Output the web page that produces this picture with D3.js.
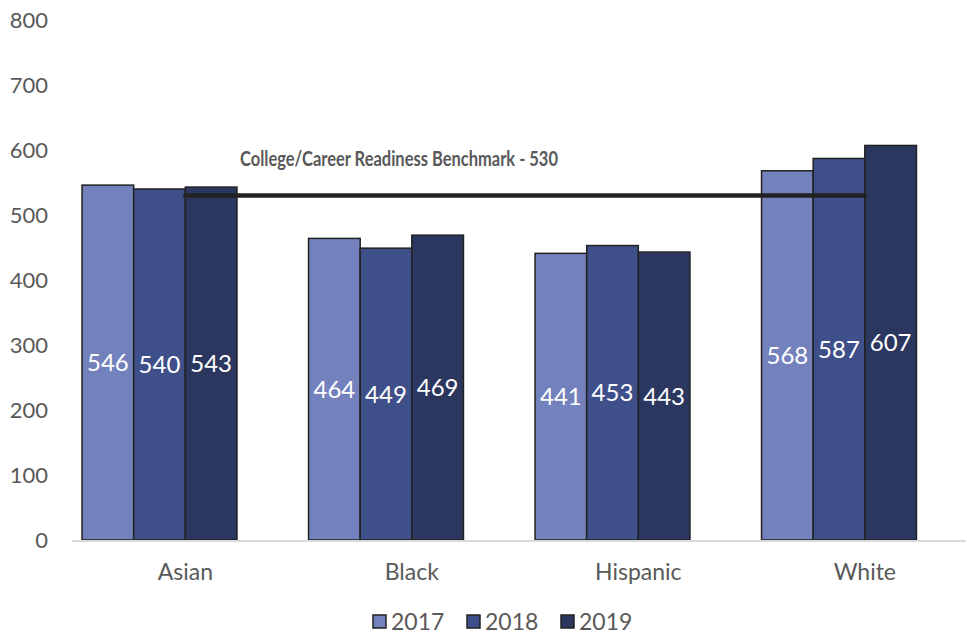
<!doctype html>
<html>
<head>
<script src="https://cdnjs.cloudflare.com/ajax/libs/d3/7.8.5/d3.min.js"></script>
<style>
body { margin: 0; background: #fff; }
text { font-family: Lato, "Open Sans", sans-serif; }
</style>
</head>
<body>
<svg width="967" height="636"></svg>
<script>
var groups = ["Asian", "Black", "Hispanic", "White"]
var years = ["2017", "2018", "2019"]
var scores2017 = [546, 464, 441, 568]
var scores2018 = [540, 449, 453, 587]
var scores2019 = [543, 469, 443, 607]
var yTicks = [0, 100, 200, 300, 400, 500, 600, 700, 800]
var benchmark = 530
var benchmarkLabel = "College/Career Readiness Benchmark - 530"

var colors = ["#7382bd", "#3f4f89", "#2c375f"]
var series = [scores2017, scores2018, scores2019]

var svg = d3.select("svg")

var y = d3.scaleLinear().domain([0, 800]).range([540, 20])
var x0 = d3.scaleBand().domain(groups).range([46.25, 952.25])
  .paddingInner(0.316).paddingOuter(0.158)
var x1 = d3.scaleBand().domain(years).range([0, x0.bandwidth()])

// y tick labels (no gridlines)
svg.append("g").selectAll("text")
  .data(yTicks).enter().append("text")
  .attr("x", 48)
  .attr("y", d => y(d))
  .attr("dy", "0.36em")
  .attr("text-anchor", "end")
  .attr("font-size", 22)
  .attr("fill", "#595959")
  .text(d => d)

// bars
var rows = []
groups.forEach((g, i) => {
  years.forEach((yr, j) => {
    rows.push({group: g, year: yr, j: j, value: series[j][i]})
  })
})

svg.append("g").selectAll("rect")
  .data(rows).enter().append("rect")
  .attr("x", d => x0(d.group) + x1(d.year))
  .attr("y", d => y(d.value))
  .attr("width", x1.bandwidth())
  .attr("height", d => y(0) - y(d.value))
  .attr("fill", d => colors[d.j])
  .attr("stroke", "#222")
  .attr("stroke-width", 1.5)

// axis baseline
svg.append("line")
  .attr("x1", 72).attr("x2", 966)
  .attr("y1", y(0) + 1).attr("y2", y(0) + 1)
  .attr("stroke", "#d9d9d9").attr("stroke-width", 2)

// value labels
svg.append("g").selectAll("text")
  .data(rows).enter().append("text")
  .attr("x", d => x0(d.group) + x1(d.year) + x1.bandwidth() / 2)
  .attr("y", d => (y(d.value) + y(0)) / 2)
  .attr("dy", "0.36em")
  .attr("text-anchor", "middle")
  .attr("font-size", 24)
  .attr("fill", "#fff")
  .text(d => d.value)

// benchmark line
var bx1 = x0("Asian") + x1("2019")
var bx2 = x0("White") + x1("2018") + x1.bandwidth()
svg.append("line")
  .attr("x1", bx1).attr("x2", bx2)
  .attr("y1", y(benchmark)).attr("y2", y(benchmark))
  .attr("stroke", "#222").attr("stroke-width", 4.5)
  .attr("stroke-linecap", "round")

svg.append("text")
  .attr("x", 240).attr("y", 166)
  .attr("font-family", "'Liberation Sans Narrow', 'DejaVu Sans Condensed', sans-serif")
  .attr("font-weight", "bold")
  .attr("font-size", 21)
  .attr("fill", "#595959")
  .attr("textLength", 318)
  .attr("lengthAdjust", "spacingAndGlyphs")
  .text(benchmarkLabel)

// category labels (sit slightly right of group centre, as in the original)
svg.append("g").selectAll("text")
  .data(groups).enter().append("text")
  .attr("x", d => x0(d) + x0.bandwidth() / 2 + x1.bandwidth() / 2)
  .attr("y", 580)
  .attr("text-anchor", "middle")
  .attr("font-size", 23)
  .attr("fill", "#595959")
  .text(d => d)

// legend
var legendX = [373, 467, 561]
var legend = svg.append("g").selectAll("g")
  .data(years).enter().append("g")
  .attr("transform", (d, i) => "translate(" + legendX[i] + ",615)")
legend.append("rect")
  .attr("width", 13).attr("height", 13)
  .attr("fill", (d, i) => colors[i])
  .attr("stroke", "#222").attr("stroke-width", 1.5)
legend.append("text")
  .attr("x", 18).attr("y", 7)
  .attr("dy", "0.36em")
  .attr("font-size", 23)
  .attr("fill", "#595959")
  .text(d => d)
</script>
</body>
</html>
